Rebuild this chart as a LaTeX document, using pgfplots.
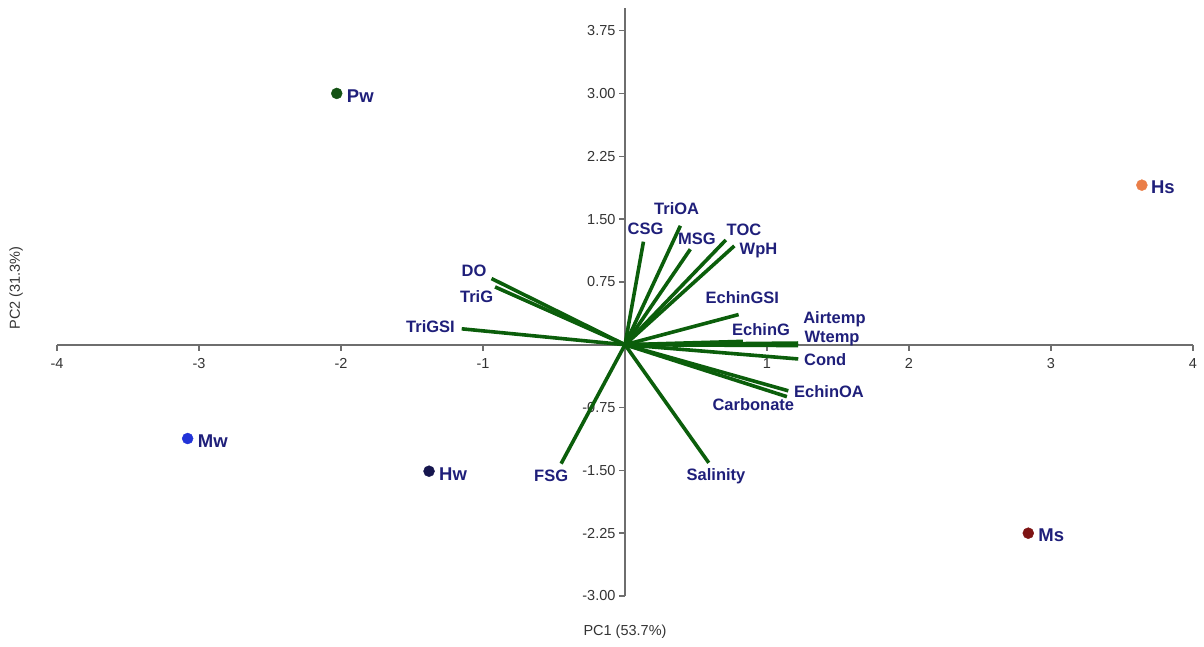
\documentclass[border=0pt]{standalone}
\usepackage{pgfplots}
\pgfplotsset{compat=1.18}
\usepackage{fontspec}
\setmainfont{Liberation Sans}
\definecolor{vec}{HTML}{0B5E0B}
\definecolor{lab}{HTML}{1F1F7A}
\definecolor{axg}{HTML}{6E6E6E}
\definecolor{tickc}{HTML}{333333}
\definecolor{cPw}{HTML}{145214}
\definecolor{cHs}{HTML}{EA7E48}
\definecolor{cMw}{HTML}{2233D8}
\definecolor{cHw}{HTML}{16164E}
\definecolor{cMs}{HTML}{7E1414}
\begin{document}
\begin{tikzpicture}
\useasboundingbox (0,0) rectangle (1204pt,646pt);
\begin{axis}[
  at={(57pt,50pt)}, anchor=south west,
  scale only axis, width=1136pt, height=588pt,
  xmin=-4, xmax=4, ymin=-3, ymax=4.02,
  axis lines=middle,
  axis line style={-, draw=axg, line width=1.8pt},
  xtick={-4,-3,-2,-1,1,2,3,4},
  ytick={-3,-2.25,-1.5,-0.75,0.75,1.5,2.25,3,3.75},
  tick style={draw=axg, line width=1.4pt},
  major tick length=6pt,
  tick align=outside,
  /pgf/number format/assume math mode=true,
  tick label style={font=\fontsize{14.5}{16}\selectfont, text=tickc},
  y tick label style={/pgf/number format/.cd, fixed, fixed zerofill, precision=2},
  x tick label style={yshift=-4pt, /pgf/number format/.cd, fixed, precision=0},
  clip=false,
]
% loading vectors
\addplot[vec, line width=3.6pt] coordinates {(0,0) (-0.94,0.79)};
\addplot[vec, line width=3.6pt] coordinates {(0,0) (-0.915,0.69)};
\addplot[vec, line width=3.6pt] coordinates {(0,0) (-1.15,0.19)};
\addplot[vec, line width=3.6pt] coordinates {(0,0) (0.13,1.23)};
\addplot[vec, line width=3.6pt] coordinates {(0,0) (0.39,1.42)};
\addplot[vec, line width=3.6pt] coordinates {(0,0) (0.46,1.14)};
\addplot[vec, line width=3.6pt] coordinates {(0,0) (0.71,1.25)};
\addplot[vec, line width=3.6pt] coordinates {(0,0) (0.77,1.18)};
\addplot[vec, line width=3.6pt] coordinates {(0,0) (0.80,0.36)};
\addplot[vec, line width=3.6pt] coordinates {(0,0) (0.83,0.04)};
\addplot[vec, line width=3.6pt] coordinates {(0,0) (1.22,0.02)};
\addplot[vec, line width=3.6pt] coordinates {(0,0) (1.22,-0.01)};
\addplot[vec, line width=3.6pt] coordinates {(0,0) (1.22,-0.17)};
\addplot[vec, line width=3.6pt] coordinates {(0,0) (1.15,-0.55)};
\addplot[vec, line width=3.6pt] coordinates {(0,0) (1.14,-0.62)};
\addplot[vec, line width=3.6pt] coordinates {(0,0) (0.59,-1.41)};
\addplot[vec, line width=3.6pt] coordinates {(0,0) (-0.45,-1.42)};
% scores
\addplot[only marks, mark=*, mark size=5.5pt, color=cPw] coordinates {(-2.03,3.0)};
\addplot[only marks, mark=*, mark size=5.5pt, color=cHs] coordinates {(3.64,1.905)};
\addplot[only marks, mark=*, mark size=5.5pt, color=cMw] coordinates {(-3.08,-1.12)};
\addplot[only marks, mark=*, mark size=5.5pt, color=cHw] coordinates {(-1.38,-1.51)};
\addplot[only marks, mark=*, mark size=5.5pt, color=cMs] coordinates {(2.84,-2.25)};
% score labels
\begin{scope}[every node/.style={text=lab, font=\bfseries\fontsize{18.5}{20}\selectfont, inner sep=0pt, anchor=west}]
\node at (axis cs:-2.03,2.97) [xshift=10pt] {Pw};
\node at (axis cs:3.64,1.875) [xshift=9pt] {Hs};
\node at (axis cs:-3.08,-1.15) [xshift=10pt] {Mw};
\node at (axis cs:-1.38,-1.54) [xshift=10pt] {Hw};
\node at (axis cs:2.84,-2.28) [xshift=10pt] {Ms};
\end{scope}
% variable labels
\begin{scope}[every node/.style={text=lab, font=\bfseries\fontsize{16.5}{18}\selectfont, inner sep=0pt, anchor=center}]
\node at (axis cs:-1.063,0.88) {DO};
\node at (axis cs:-1.045,0.58) {TriG};
\node at (axis cs:-1.37,0.214) {TriGSI};
\node at (axis cs:0.145,1.381) {CSG};
\node at (axis cs:0.364,1.631) {TriOA};
\node at (axis cs:0.507,1.26) {MSG};
\node at (axis cs:0.838,1.37) {TOC};
\node at (axis cs:0.94,1.12) {WpH};
\node at (axis cs:0.826,0.56) {EchinGSI};
\node at (axis cs:0.958,0.179) {EchinG};
\node at (axis cs:1.475,0.31) {Airtemp};
\node at (axis cs:1.458,0.071) {Wtemp};
\node at (axis cs:1.41,-0.179) {Cond};
\node at (axis cs:1.437,-0.56) {EchinOA};
\node at (axis cs:0.904,-0.716) {Carbonate};
\node at (axis cs:0.641,-1.571) {Salinity};
\node at (axis cs:-0.52,-1.571) {FSG};
\end{scope}
\end{axis}
\node[text=tickc, font=\fontsize{14.5}{16}\selectfont, inner sep=0pt] at (625pt,14pt) {PC1 (53.7\%)};
\node[text=tickc, font=\fontsize{14.5}{16}\selectfont, inner sep=0pt, rotate=90] at (16pt,358pt) {PC2 (31.3\%)};
\end{tikzpicture}
\end{document}
